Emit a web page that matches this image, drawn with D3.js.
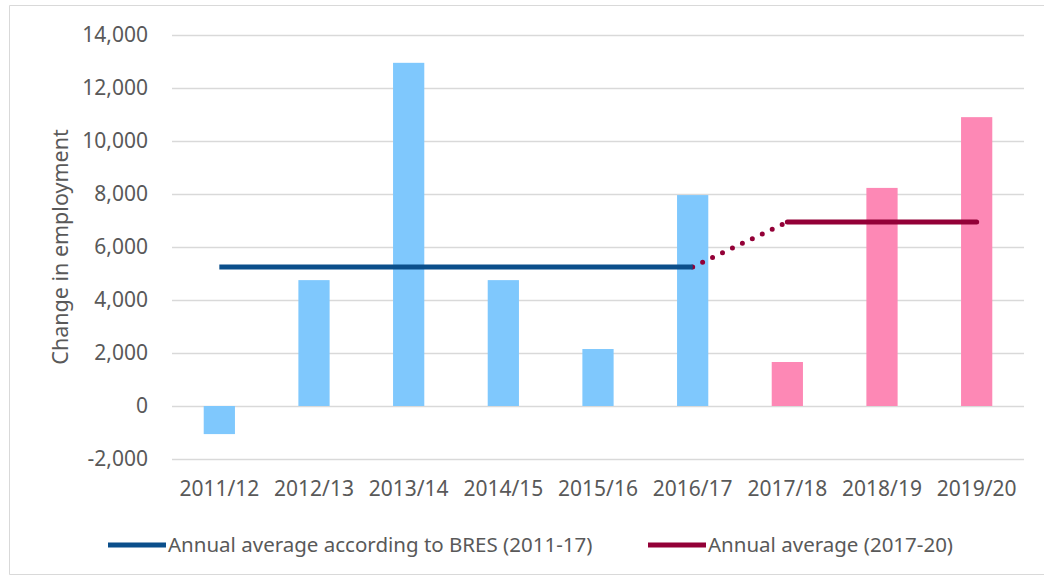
<!DOCTYPE html>
<html>
<head>
<meta charset="utf-8">
<script src="https://cdn.jsdelivr.net/npm/d3@7"></script>
<style>
  body { margin: 0; background: #fff; }
  svg { display: block; font-family: "Noto Sans", "Liberation Sans", sans-serif; }
</style>
</head>
<body>
<div id="chart"></div>
<script>
const years = ['2011/12', '2012/13', '2013/14', '2014/15', '2015/16', '2016/17', '2017/18', '2018/19', '2019/20'];
const change = [-1060, 4750, 12950, 4750, 2150, 7960, 1660, 8230, 10900];
// first six years come from BRES, last three from the newer estimate
const period = ['bres', 'bres', 'bres', 'bres', 'bres', 'bres', 'new', 'new', 'new'];
const yTicks = [-2000, 0, 2000, 4000, 6000, 8000, 10000, 12000, 14000];

const avgBres = 5250;
const avgNew = 6940;

const width = 1044, height = 578;
const margin = {top: 35, right: 20, bottom: 119, left: 172};

const barColor = {bres: '#7fc8fd', new: '#fd88b5'};
const blueLine = '#0b4f8b';
const redLine = '#930037';
const textColor = '#595959';

const svg = d3.select('#chart').append('svg')
  .attr('width', width)
  .attr('height', height);

// outer frame
svg.append('path')
  .attr('d', `M${width},5.5 H9.5 V${height - 3.5} H${width}`)
  .attr('fill', 'none')
  .attr('stroke', '#d9d9d9');

const x = d3.scaleBand()
  .domain(years)
  .range([margin.left, width - margin.right])
  .paddingInner(0.67)
  .paddingOuter(0.335);

const y = d3.scaleLinear()
  .domain([-2000, 14000])
  .range([height - margin.bottom, margin.top]);

// gridlines
svg.append('g')
  .selectAll('line')
  .data(yTicks)
  .join('line')
  .attr('x1', margin.left)
  .attr('x2', width - margin.right)
  .attr('y1', d => Math.round(y(d)) + 0.5)
  .attr('y2', d => Math.round(y(d)) + 0.5)
  .attr('stroke', '#d9d9d9')
  .attr('stroke-width', 1.5);

// y axis labels (plain hyphen for negatives, like the original)
const fmt = d => d3.format(',')(d).replace('\u2212', '-');
const yAxis = svg.append('g')
  .attr('transform', `translate(${margin.left - 24},0)`)
  .call(d3.axisLeft(y).tickValues(yTicks).tickSize(0).tickPadding(0).tickFormat(fmt));
yAxis.select('.domain').remove();
yAxis.selectAll('text')
  .attr('fill', textColor)
  .attr('font-size', 21)
  .attr('font-family', '"Noto Sans", sans-serif');

// x axis labels
const xAxis = svg.append('g')
  .attr('transform', `translate(0,${y(-2000) + 22})`)
  .call(d3.axisBottom(x).tickSize(0).tickPadding(0));
xAxis.select('.domain').remove();
xAxis.selectAll('text')
  .attr('fill', textColor)
  .attr('font-size', 21)
  .attr('font-family', '"Noto Sans", sans-serif');

// y axis title
svg.append('text')
  .attr('transform', `translate(68,${(y(14000) + y(-2000)) / 2}) rotate(-90)`)
  .attr('text-anchor', 'middle')
  .attr('fill', textColor)
  .attr('font-size', 21.5)
  .text('Change in employment');

// bars
svg.append('g')
  .selectAll('rect')
  .data(years)
  .join('rect')
  .attr('x', d => x(d))
  .attr('width', x.bandwidth())
  .attr('y', (d, i) => y(Math.max(0, change[i])))
  .attr('height', (d, i) => Math.abs(y(change[i]) - y(0)))
  .attr('fill', (d, i) => barColor[period[i]]);

const cx = d => x(d) + x.bandwidth() / 2;

// dotted link between the two averages
svg.append('line')
  .attr('x1', cx('2016/17'))
  .attr('y1', y(avgBres))
  .attr('x2', cx('2017/18'))
  .attr('y2', y(avgNew))
  .attr('stroke', redLine)
  .attr('stroke-width', 5)
  .attr('stroke-linecap', 'round')
  .attr('stroke-dasharray', '0 11');

svg.append('line')
  .attr('x1', cx('2011/12'))
  .attr('x2', cx('2016/17'))
  .attr('y1', y(avgBres))
  .attr('y2', y(avgBres))
  .attr('stroke', blueLine)
  .attr('stroke-width', 5);

svg.append('line')
  .attr('x1', cx('2017/18'))
  .attr('x2', cx('2019/20'))
  .attr('y1', y(avgNew))
  .attr('y2', y(avgNew))
  .attr('stroke', redLine)
  .attr('stroke-width', 5)
  .attr('stroke-linecap', 'round');

// legend
const legend = [
  {label: 'Annual average according to BRES (2011-17)', color: blueLine, x: 108},
  {label: 'Annual average (2017-20)', color: redLine, x: 648}
];
const lg = svg.append('g')
  .selectAll('g')
  .data(legend)
  .join('g')
  .attr('transform', d => `translate(${d.x},545)`);
lg.append('line')
  .attr('x1', 0).attr('x2', 58)
  .attr('stroke', d => d.color)
  .attr('stroke-width', 5);
lg.append('text')
  .attr('x', 60)
  .attr('dy', '0.35em')
  .attr('fill', textColor)
  .attr('font-size', 20.5)
  .text(d => d.label);
</script>
</body>
</html>
